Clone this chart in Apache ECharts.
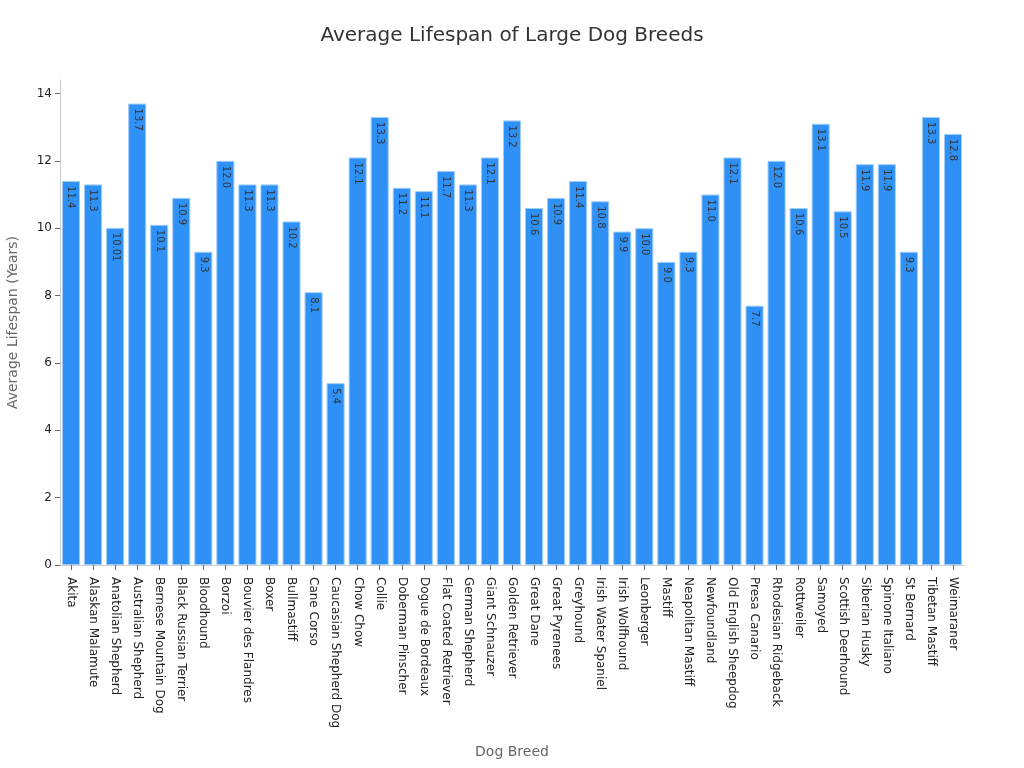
<!DOCTYPE html>
<html>
<head>
<meta charset="utf-8">
<script src="https://cdn.jsdelivr.net/npm/echarts@6/dist/echarts.min.js"></script>
<style>
  html, body { margin: 0; padding: 0; background: #fff; }
  #chart { width: 1024px; height: 768px; }
</style>
</head>
<body>
<div id="chart"></div>
<script>
var breeds = ['Akita', 'Alaskan Malamute', 'Anatolian Shepherd', 'Australian Shepherd', 'Bernese Mountain Dog',
  'Black Russian Terrier', 'Bloodhound', 'Borzoi', 'Bouvier des Flandres', 'Boxer', 'Bullmastiff', 'Cane Corso',
  'Caucasian Shepherd Dog', 'Chow Chow', 'Collie', 'Doberman Pinscher', 'Dogue de Bordeaux', 'Flat Coated Retriever',
  'German Shepherd', 'Giant Schnauzer', 'Golden Retriever', 'Great Dane', 'Great Pyrenees', 'Greyhound',
  'Irish Water Spaniel', 'Irish Wolfhound', 'Leonberger', 'Mastiff', 'Neapolitan Mastiff', 'Newfoundland',
  'Old English Sheepdog', 'Presa Canario', 'Rhodesian Ridgeback', 'Rottweiler', 'Samoyed', 'Scottish Deerhound',
  'Siberian Husky', 'Spinone Italiano', 'St Bernard', 'Tibetan Mastiff', 'Weimaraner'];

var lifespan = [11.4, 11.3, 10.01, 13.7, 10.1, 10.9, 9.3, 12.0, 11.3, 11.3, 10.2, 8.1,
  5.4, 12.1, 13.3, 11.2, 11.1, 11.7, 11.3, 12.1, 13.2, 10.6, 10.9, 11.4,
  10.8, 9.9, 10.0, 9.0, 9.3, 11.0, 12.1, 7.7, 12.0, 10.6, 13.1, 10.5,
  11.9, 11.9, 9.3, 13.3, 12.8];

// labels as printed on the bars
var valueLabels = ['11.4', '11.3', '10.01', '13.7', '10.1', '10.9', '9.3', '12.0', '11.3', '11.3', '10.2', '8.1',
  '5.4', '12.1', '13.3', '11.2', '11.1', '11.7', '11.3', '12.1', '13.2', '10.6', '10.9', '11.4',
  '10.8', '9.9', '10.0', '9.0', '9.3', '11.0', '12.1', '7.7', '12.0', '10.6', '13.1', '10.5',
  '11.9', '11.9', '9.3', '13.3', '12.8'];

var chart = echarts.init(document.getElementById('chart'));
var font = 'DejaVu Sans';

var option = {
  backgroundColor: '#fff',
  animation: false,
  title: {
    text: 'Average Lifespan of Large Dog Breeds',
    left: 'center',
    top: 21,
    textStyle: { fontFamily: font, fontSize: 20, fontWeight: 'normal', color: '#333' }
  },
  grid: { left: 60, right: 60, top: 80, bottom: 203, containLabel: false, outerBoundsMode: 'none' },
  xAxis: {
    type: 'category',
    data: breeds,
    name: 'Dog Breed',
    nameLocation: 'middle',
    nameGap: 180,
    nameTextStyle: { fontFamily: font, fontSize: 14, color: '#666' },
    axisLine: { lineStyle: { color: '#ccc' } },
    axisTick: { show: true, alignWithLabel: true, length: 5, lineStyle: { color: '#666' } },
    axisLabel: { rotate: -90, interval: 0, fontFamily: font, fontSize: 12, color: '#222', margin: 12 }
  },
  yAxis: {
    type: 'value',
    min: 0,
    max: 14.4,
    interval: 2,
    name: 'Average Lifespan (Years)',
    nameLocation: 'middle',
    nameGap: 40,
    nameTextStyle: { fontFamily: font, fontSize: 14, color: '#666' },
    axisLine: { show: true, lineStyle: { color: '#ccc' } },
    axisTick: { show: true, length: 5, lineStyle: { color: '#666' } },
    axisLabel: { fontFamily: font, fontSize: 12, color: '#222', showMaxLabel: false, margin: 8 },
    splitLine: { show: false }
  },
  series: [{
    type: 'bar',
    data: lifespan,
    barCategoryGap: '18%',
    itemStyle: { color: '#2f91f5', borderColor: '#9fcdfa', borderWidth: 1 },
    label: {
      show: true,
      position: 'insideTop',
      rotate: -90,
      align: 'left',
      verticalAlign: 'middle',
      distance: 5,
      fontFamily: font,
      fontSize: 10,
      color: '#333',
      formatter: function (p) { return valueLabels[p.dataIndex]; }
    }
  }]
};

chart.setOption(option);
</script>
</body>
</html>
